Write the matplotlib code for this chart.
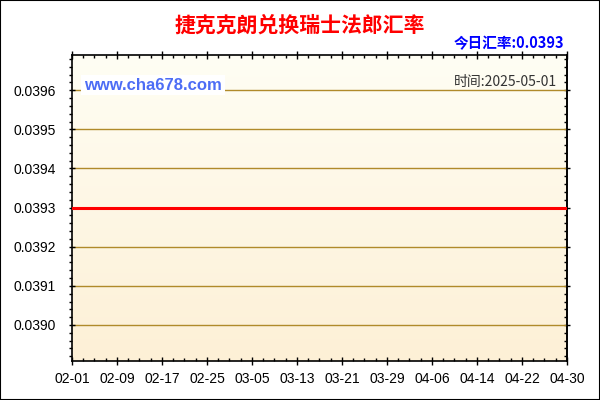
import matplotlib
matplotlib.use('Agg')
import matplotlib.pyplot as plt
import numpy as np
import pandas as pd
from matplotlib.patches import Rectangle
from matplotlib.ticker import FixedLocator, MultipleLocator

TITLE = '捷克克朗兑换瑞士法郎汇率'
TODAY_RATE = '今日汇率:0.0393'
DATE_LABEL = '时间:2025-05-01'
SITE = 'www.cha678.com'

dates = pd.date_range('2025-02-01', '2025-04-30', freq='D')
rates = [0.0393] * len(dates)
x_ticks = pd.date_range('2025-02-01', '2025-04-30', freq='8D')
x_minor = pd.date_range('2025-02-01', '2025-04-30', freq='2D')
y_ticks = [0.0390, 0.0391, 0.0392, 0.0393, 0.0394, 0.0395, 0.0396]
y_range = (0.038908, 0.03969)

GRID = '#b08a2a'
CJK = ['Noto Sans CJK SC', 'DejaVu Sans']


def main():
    plt.rcParams['font.family'] = ['Liberation Sans', 'DejaVu Sans']
    fig = plt.figure(figsize=(6, 4), dpi=100, facecolor='white')
    rect = [72 / 600, 39 / 400, 495 / 600, 306 / 400]

    # soft vertical gradient behind the plot area
    bg = fig.add_axes(rect, zorder=0)
    grad = np.linspace(0, 1, 256).reshape(-1, 1)
    cmap = matplotlib.colors.LinearSegmentedColormap.from_list(
        'bg', ['#fffef4', '#fdf0d6'])
    bg.imshow(grad, cmap=cmap, aspect='auto', extent=[0, 1, 0, 1])
    bg.axis('off')

    ax = fig.add_axes(rect, zorder=1)
    ax.patch.set_visible(False)

    for v in y_ticks:
        ax.axhline(v, color=GRID, lw=1, zorder=1)
    ax.plot(dates, rates, color='#ff0000', lw=2.2, zorder=3)

    ax.xaxis.set_major_locator(FixedLocator(matplotlib.dates.date2num(x_ticks)))
    ax.xaxis.set_minor_locator(FixedLocator(matplotlib.dates.date2num(x_minor)))
    ax.set_xticklabels(x_ticks.strftime('%m-%d'))
    ax.yaxis.set_major_locator(FixedLocator(y_ticks))
    ax.yaxis.set_minor_locator(MultipleLocator(0.00002))
    ax.set_yticklabels(['%.4f' % v for v in y_ticks])

    ax.tick_params(axis='both', which='major', labelsize=10, colors='black',
                   width=1)
    ax.tick_params(axis='x', which='major', direction='inout', length=6,
                   top=True, pad=5)
    ax.tick_params(axis='x', which='minor', direction='in', length=2.5,
                   top=True, width=1)
    ax.tick_params(axis='y', which='major', direction='inout', length=5,
                   pad=9)
    ax.tick_params(axis='y', which='minor', direction='out', length=2.5,
                   width=1)

    for s in ax.spines.values():
        s.set_linewidth(1.2)
        s.set_color('black')

    ax.set_xlim(dates[0], dates[-1])
    ax.set_ylim(*y_range)

    right = ax.secondary_yaxis('right')
    right.yaxis.set_major_locator(FixedLocator(y_ticks))
    right.yaxis.set_minor_locator(MultipleLocator(0.00002))
    right.tick_params(which='major', direction='inout', length=5,
                      labelright=False, width=1)
    right.tick_params(which='minor', direction='in', length=2.5, width=1)
    right.spines['right'].set_linewidth(1.2)

    fig.text(0.5, 1 - 25 / 400, TITLE, ha='center', va='center',
             fontsize=15, fontweight='bold', color='#ff0000', family=CJK)
    fig.text(564 / 600, 1 - 43 / 400, TODAY_RATE, ha='right', va='center',
             fontsize=10.5, fontweight='bold', color='#0000ff', family=CJK)
    fig.text(557 / 600, 1 - 82 / 400, DATE_LABEL, ha='right', va='center',
             fontsize=10, color='#333333', family=CJK)
    fig.text(84 / 600, 1 - 85 / 400, SITE, ha='left', va='center',
             fontsize=12, fontweight='bold', color='#4d6df5',
             bbox=dict(facecolor='white', edgecolor='none', pad=2),
             zorder=5)

    fig.patches.append(Rectangle((0, 0), 1, 1, transform=fig.transFigure,
                                 fill=False, edgecolor='black', lw=1.5))
    fig.savefig('out.png', dpi=100)


if __name__ == '__main__':
    main()
